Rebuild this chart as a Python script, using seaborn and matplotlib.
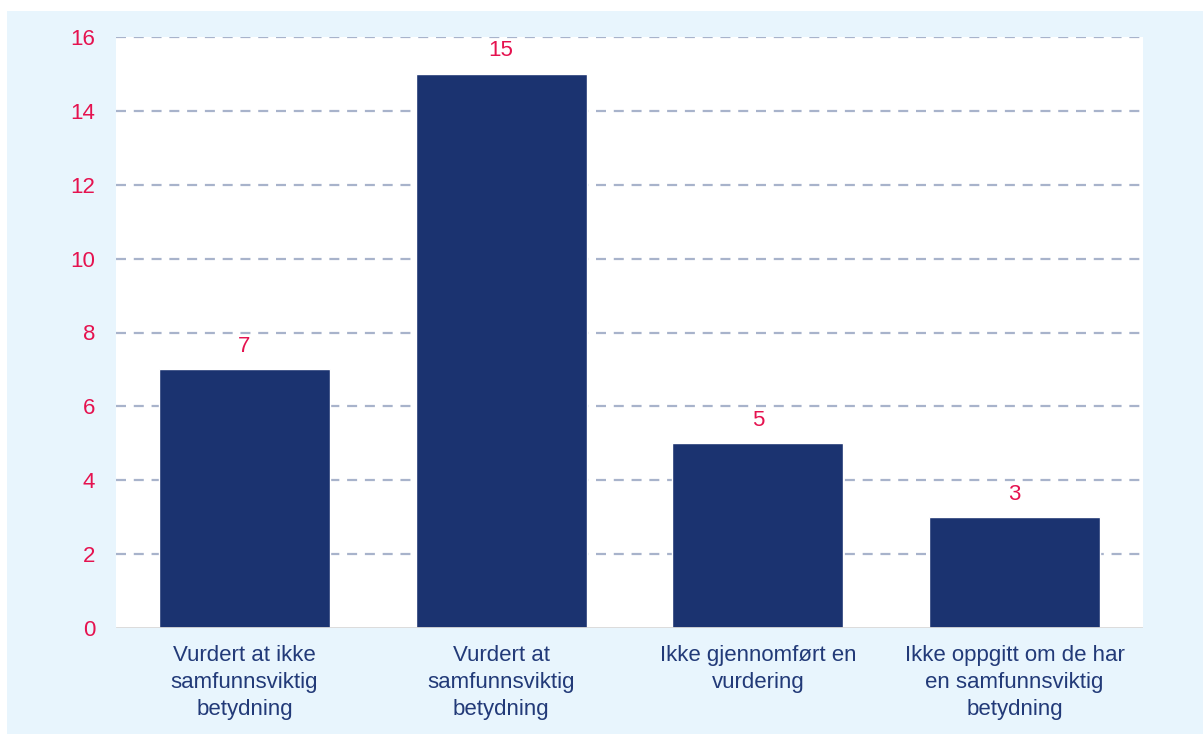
import matplotlib
matplotlib.use("Agg")
import matplotlib.pyplot as plt
import seaborn as sns
import pandas as pd
from matplotlib.patches import Rectangle

categories = [
    "Vurdert at ikke\nsamfunnsviktig\nbetydning",
    "Vurdert at\nsamfunnsviktig\nbetydning",
    "Ikke gjennomført en\nvurdering",
    "Ikke oppgitt om de har\nen samfunnsviktig\nbetydning",
]
values = [7, 15, 5, 3]
yticks = [0, 2, 4, 6, 8, 10, 12, 14, 16]

NAVY = "#1B3370"
LABEL = "#223A78"
RED = "#E5124F"
BG = "#E8F5FD"
GRID = "#A8B3CB"

sns.set_theme(style="white")
plt.rcParams["font.family"] = ["Liberation Sans", "DejaVu Sans"]

fig = plt.figure(figsize=(12.03, 7.34), dpi=100, facecolor="white")
fig.patches.append(Rectangle((7 / 1203, 0), 1 - 7 / 1203, 1 - 11 / 734,
                             transform=fig.transFigure, facecolor=BG,
                             edgecolor="none", zorder=-10))

ax = fig.add_axes([116 / 1203, 106 / 734, (1143 - 116) / 1203, (628 - 37) / 734])
ax.set_facecolor("white")

df = pd.DataFrame({"cat": categories, "val": values})
sns.barplot(data=df, x="cat", y="val", color=NAVY, saturation=1, width=0.666,
            ax=ax, zorder=3)

ax.set_ylim(0, 16)
ax.set_yticks(yticks)
ax.set_xlim(-0.5, 3.5)
for y in yticks[1:]:
    ax.axhline(y, color=GRID, lw=1.6, ls=(0, (4.5, 3.5)), zorder=1)
ax.axhline(0, color="#D8D8D8", lw=2, zorder=4)

for s in ax.spines.values():
    s.set_visible(False)

ax.tick_params(axis="y", length=0, pad=15, labelsize=16, labelcolor=RED)
ax.tick_params(axis="x", length=0, pad=12, labelsize=16, labelcolor=LABEL)
for lab in ax.get_xticklabels():
    lab.set_linespacing(1.38)
ax.set_xlabel("")
ax.set_ylabel("")

for i, v in enumerate(values):
    ax.annotate(str(v), (i, v), xytext=(0, 9), textcoords="offset points",
                ha="center", va="bottom", color=RED, fontsize=16)

fig.savefig("out.png", dpi=100, facecolor="white")
